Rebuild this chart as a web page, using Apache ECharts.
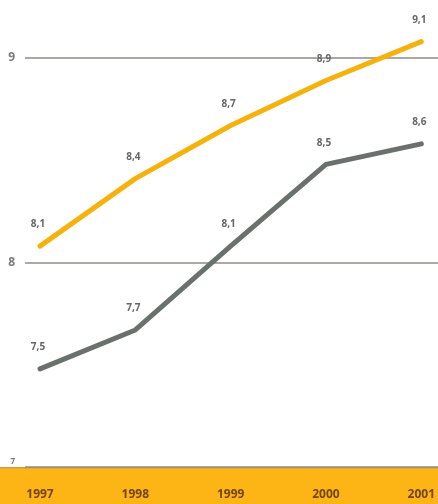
<!DOCTYPE html>
<html>
<head>
<meta charset="utf-8">
<style>
  html, body { margin: 0; padding: 0; background: #ffffff; }
  #chart { width: 438px; height: 504px; }
</style>
<script src="https://cdn.jsdelivr.net/npm/echarts@6/dist/echarts.min.js"></script>
</head>
<body>
<div id="chart"></div>
<script>
const categories = ['1997', '1998', '1999', '2000', '2001'];
const yellowValues = [8.08, 8.41, 8.67, 8.89, 9.08];
const grayValues = [7.48, 7.67, 8.08, 8.48, 8.58];
const yTicks = [7, 8, 9];

const chart = echarts.init(document.getElementById('chart'), null, { renderer: 'canvas' });

const labelStyle = {
  show: true,
  position: 'top',
  distance: 16,
  offset: [-2, 0],
  color: '#666666',
  fontFamily: 'Open Sans',
  fontWeight: 'bold',
  fontSize: 10,
  formatter: p => p.value.toFixed(1).replace('.', ',')
};

chart.setOption({
  animation: false,
  backgroundColor: '#ffffff',
  graphic: [
    {
      type: 'rect',
      z: -10,
      shape: { x: 0, y: 467, width: 438, height: 37 },
      style: { fill: '#FDB515' }
    },
    {
      type: 'rect',
      z: -9,
      shape: { x: 0, y: 467, width: 438, height: 1.5 },
      style: { fill: '#c9a047' }
    }
  ],
  grid: [
    { left: 25, right: 0, top: 58, bottom: 37 },
    { left: 40, right: 14, top: 58, bottom: 37 }
  ],
  xAxis: [
    { type: 'category', gridIndex: 0, data: categories, show: false },
    {
      type: 'category', gridIndex: 1, data: categories, boundaryGap: false,
      axisLine: { show: false }, axisTick: { show: false },
      axisLabel: { margin: 22, color: '#73450f', fontFamily: 'Open Sans', fontWeight: 'bold', fontSize: 12 }
    }
  ],
  yAxis: [
    {
      type: 'value', gridIndex: 0, min: yTicks[0], max: yTicks[yTicks.length - 1], interval: 1,
      axisLine: { show: false }, axisTick: { show: false },
      axisLabel: {
        margin: 10, color: '#7a7a7a', fontFamily: 'Open Sans', fontWeight: 'bold', fontSize: 12,
        formatter: v => v === yTicks[0] ? '{s|' + v + '}' : String(v),
        rich: { s: { fontSize: 8, color: '#7a7a7a', fontWeight: 'bold', fontFamily: 'Open Sans', padding: [0, 0, 10, 0] } }
      },
      splitLine: { show: true, lineStyle: { color: '#8e8e86', width: 1.5 } }
    },
    {
      type: 'value', gridIndex: 1, min: yTicks[0], max: yTicks[yTicks.length - 1], interval: 1,
      show: false, splitLine: { show: false }
    }
  ],
  series: [
    {
      name: 'yellow', type: 'line', xAxisIndex: 1, yAxisIndex: 1, clip: false,
      data: yellowValues, symbol: 'circle', symbolSize: 1, showSymbol: true,
      itemStyle: { color: 'rgba(0,0,0,0)' },
      lineStyle: { color: '#F6B20C', width: 5, cap: 'round', join: 'round' },
      label: labelStyle
    },
    {
      name: 'gray', type: 'line', xAxisIndex: 1, yAxisIndex: 1, clip: false,
      data: grayValues, symbol: 'circle', symbolSize: 1, showSymbol: true,
      itemStyle: { color: 'rgba(0,0,0,0)' },
      lineStyle: { color: '#6a706c', width: 5, cap: 'round', join: 'round' },
      label: labelStyle
    }
  ]
});
</script>
</body>
</html>
